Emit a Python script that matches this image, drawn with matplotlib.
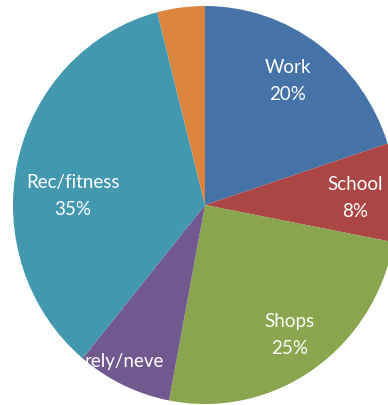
import matplotlib.pyplot as plt

# доли по категориям (по часовой стрелке от 12 часов)
labels = ['Work', 'School', 'Shops', 'rely/neve', 'Rec/fitness', '']
values = [20, 8, 25, 8, 35, 4]
pct_text = ['20%', '8%', '25%', '', '35%', '']
colors = ['#4572A7', '#AA4643', '#89A54E', '#71588F', '#4198AF', '#DB843D']

# позиции подписей (в координатах осей пирога)
label_x = [0.43, 0.78, 0.44, -0.42, -0.69, 0]
label_y = [0.63, 0.04, -0.65, -0.78, 0.05, 0]

fig = plt.figure(figsize=(3.88, 4.06), dpi=100)
ax = fig.add_axes([0, 0, 1, 1])

ax.pie(values, colors=colors, startangle=90, counterclock=False,
       radius=1, wedgeprops=dict(linewidth=0))

ax.set_aspect('auto')
ax.set_xlim(-205 / 192, 183 / 192)
ax.set_ylim(-200 / 199, 206 / 199)
ax.axis('off')

for lab, pct, x, y in zip(labels, pct_text, label_x, label_y):
    if not lab:
        continue
    txt = lab + ('\n' + pct if pct else '')
    ax.text(x, y, txt, ha='center', va='center', color='white',
            fontsize=13.5, family='Lato', linespacing=1.7)

fig.savefig('out.png', dpi=100)
